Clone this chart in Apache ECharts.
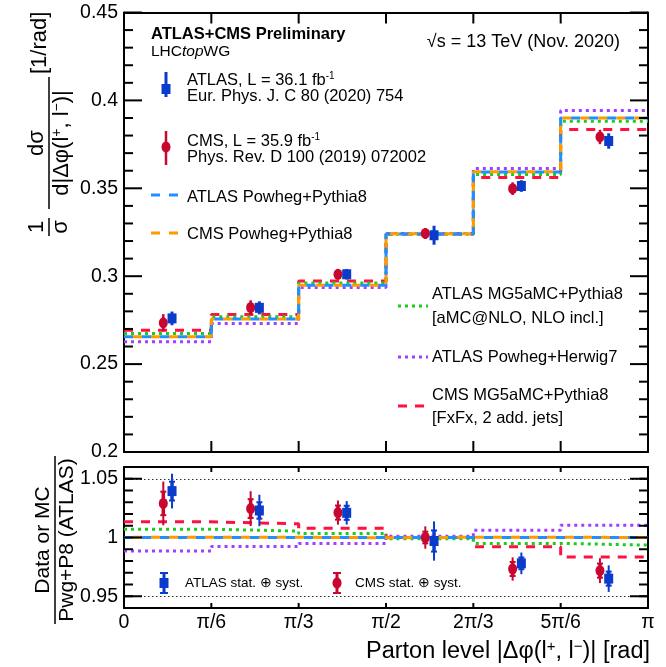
<!DOCTYPE html>
<html>
<head>
<meta charset="utf-8">
<script src="https://cdn.jsdelivr.net/npm/echarts@6/dist/echarts.min.js"></script>
<style>
  html, body { margin: 0; padding: 0; background: #ffffff; }
  #chart { width: 666px; height: 667px; }
</style>
</head>
<body>
<div id="chart"></div>
<script>
// |Δφ(l+, l-)| bin edges, in units of π/6
const binEdges = [0, 1, 2, 3, 4, 5, 6];
const tickLabels = ['0', 'π/6', 'π/3', 'π/2', '2π/3', '5π/6', 'π'];

// Normalised differential cross-section, 1/σ dσ/d|Δφ| [1/rad]
const atlasData = [0.2760, 0.2820, 0.3011, 0.3233, 0.3513, 0.3769];
const atlasErr  = [0.0039, 0.0037, 0.0030, 0.0054, 0.0033, 0.0044];
const cmsData   = [0.2735, 0.2822, 0.3011, 0.3243, 0.3498, 0.3792];
const cmsErr    = [0.0049, 0.0041, 0.0030, 0.0031, 0.0036, 0.0041];

const atlasPwgPy8 = [0.2655, 0.2756, 0.2949, 0.3240, 0.3593, 0.3900];
const cmsPwgPy8   = [0.2656, 0.2757, 0.2948, 0.3241, 0.3594, 0.3900];
const atlasMg5Py8 = [0.2674, 0.2769, 0.2962, 0.3238, 0.3578, 0.3881];
const atlasPwgHw7 = [0.2627, 0.2731, 0.2936, 0.3243, 0.3612, 0.3942];
const cmsMg5Py8   = [0.2693, 0.2782, 0.2972, 0.3240, 0.3562, 0.3835];

// Ratio to ATLAS Powheg+Pythia8
const ratioAtlasData = [1.0395, 1.0230, 1.0210, 0.9970, 0.9780, 0.9650];
const ratioAtlasErr  = [0.0148, 0.0134, 0.0100, 0.0167, 0.0092, 0.0113];
const ratioAtlasStat = [0.0080, 0.0070, 0.0060, 0.0090, 0.0050, 0.0060];
const ratioCmsData   = [1.0290, 1.0246, 1.0212, 1.0000, 0.9732, 0.9718];
const ratioCmsErr    = [0.0186, 0.0148, 0.0103, 0.0095, 0.0099, 0.0106];
const ratioCmsStat   = [0.0100, 0.0080, 0.0060, 0.0050, 0.0060, 0.0060];

const ratioAtlasPwgPy8 = [1.0000, 1.0000, 1.0000, 1.0000, 1.0000, 1.0000];
const ratioCmsPwgPy8   = [1.0003, 1.0002, 0.9998, 1.0002, 1.0002, 1.0000];
const ratioAtlasMg5Py8 = [1.0071, 1.0054, 1.0034, 0.9990, 0.9950, 0.9935];
const ratioAtlasPwgHw7 = [0.9886, 0.9924, 0.9950, 1.0010, 1.0062, 1.0105];
const ratioCmsMg5Py8   = [1.0133, 1.0116, 1.0079, 1.0000, 0.9921, 0.9833];

const ratioRefLines = [0.95, 1.05];

// Tick positions of the framed axes
const mainYMajor = [0.2, 0.25, 0.3, 0.35, 0.4, 0.45];
const mainYMinor = [0.21, 0.22, 0.23, 0.24, 0.26, 0.27, 0.28, 0.29, 0.31, 0.32, 0.33, 0.34,
                    0.36, 0.37, 0.38, 0.39, 0.41, 0.42, 0.43, 0.44];
const ratioYMajor = [0.95, 1, 1.05];
const ratioYMinor = [0.95, 0.96, 0.97, 0.98, 0.99, 1.01, 1.02, 1.03, 1.04, 1.05, 1.06];

const FONT = '"Liberation Sans", Arial, Helvetica, sans-serif';
const C = {
  atlas: '#0a3ccc', cms: '#c8062f',
  atlasPwgPy8: '#2090ff', cmsPwgPy8: '#ff9a00',
  atlasMg5: '#1ccc1c', hw7: '#a040ff', cmsMg5: '#ff1040'
};

const centers = binEdges.slice(0, -1).map((e, i) => (e + binEdges[i + 1]) / 2);
const cmsX = centers.map(c => c - 0.05);
const atlasX = centers.map(c => c + 0.05);
const xMin = binEdges[0], xMax = binEdges[binEdges.length - 1];
const mainRange = [0.2, 0.45];
const ratioRange = [0.94, 1.06];

function stepPoints(vals) {
  const pts = [];
  vals.forEach((v, i) => { pts.push([binEdges[i], v]); pts.push([binEdges[i + 1], v]); });
  return pts;
}

function stepSeries(vals, color, dash, offset, gi) {
  return {
    type: 'line', xAxisIndex: gi === 0 ? 0 : 2, yAxisIndex: gi === 0 ? 0 : 2,
    data: stepPoints(vals), showSymbol: false, silent: true, z: 3,
    lineStyle: { color: color, width: 3, type: dash, dashOffset: offset, cap: 'butt' }
  };
}

function errorSeries(xs, ys, errs, stats, color, gi, width) {
  return {
    type: 'custom', xAxisIndex: gi === 0 ? 0 : 2, yAxisIndex: gi === 0 ? 0 : 2,
    silent: true, z: 5,
    data: ys.map((y, i) => [xs[i], y, errs[i], stats ? stats[i] : 0]),
    renderItem: function (params, api) {
      const x = api.value(0), y = api.value(1), e = api.value(2), s = api.value(3);
      const t = api.coord([x, y + e]), b = api.coord([x, y - e]);
      const kids = [{ type: 'line', shape: { x1: t[0], y1: t[1], x2: b[0], y2: b[1] },
        style: { stroke: color, lineWidth: width } }];
      if (s) {
        const st = api.coord([x, y + s]), sb = api.coord([x, y - s]);
        kids.push({ type: 'line', shape: { x1: st[0] - 3, y1: st[1], x2: st[0] + 3, y2: st[1] }, style: { stroke: color, lineWidth: 2 } });
        kids.push({ type: 'line', shape: { x1: sb[0] - 3, y1: sb[1], x2: sb[0] + 3, y2: sb[1] }, style: { stroke: color, lineWidth: 2 } });
        kids.push({ type: 'line', shape: { x1: st[0], y1: st[1], x2: sb[0], y2: sb[1] }, style: { stroke: color, lineWidth: width + 1.5 } });
      }
      return { type: 'group', children: kids };
    }
  };
}

function markerSeries(xs, ys, color, symbol, size, gi) {
  return {
    type: 'scatter', xAxisIndex: gi === 0 ? 0 : 2, yAxisIndex: gi === 0 ? 0 : 2,
    data: ys.map((y, i) => [xs[i], y]), symbol: symbol, symbolSize: size,
    itemStyle: { color: color, opacity: 1 }, silent: true, z: 6
  };
}

function axisLine() { return { show: true, onZero: false, lineStyle: { color: '#000', width: 2 } }; }

function xAxisCfg(gi, pos, labels) {
  return {
    type: 'value', gridIndex: gi, position: pos, min: xMin, max: xMax, interval: 1,
    axisLine: axisLine(),
    axisTick: { show: false },
    axisLabel: labels ? {
      show: true, margin: 5, color: '#000', fontFamily: FONT, fontSize: 19.5,
      formatter: v => tickLabels[Math.round(v)]
    } : { show: false },
    splitLine: { show: false }
  };
}

function mainYAxis(pos, labels) {
  return {
    type: 'value', gridIndex: 0, position: pos, min: mainRange[0], max: mainRange[1], interval: 0.05,
    axisLine: axisLine(),
    axisTick: { show: false },
    axisLabel: labels ? { show: true, margin: 6, color: '#000', fontFamily: FONT, fontSize: 19.5 } : { show: false },
    splitLine: { show: false }
  };
}

function ratioYAxis(pos, labels) {
  return {
    type: 'value', gridIndex: 1, position: pos, min: ratioRange[0], max: ratioRange[1], interval: 0.01,
    axisLine: axisLine(),
    axisTick: { show: false },
    axisLabel: labels ? {
      show: true, margin: 6, color: '#000', fontFamily: FONT, fontSize: 19.5,
      showMinLabel: false, showMaxLabel: false,
      formatter: v => {
        const m = ratioYMajor.find(t => Math.abs(t - v) < 1e-6);
        return m === undefined ? '' : String(m);
      }
    } : { show: false },
    splitLine: { show: false }
  };
}

const option = {
  animation: false,
  grid: [
    { left: 124, top: 12.5, width: 524, height: 439.5 },
    { left: 124, top: 467, width: 524, height: 141 }
  ],
  xAxis: [
    xAxisCfg(0, 'bottom', false),
    xAxisCfg(0, 'top', false),
    xAxisCfg(1, 'bottom', true),
    xAxisCfg(1, 'top', false)
  ],
  yAxis: [
    mainYAxis('left', true),
    mainYAxis('right', false),
    ratioYAxis('left', true),
    ratioYAxis('right', false)
  ],
  series: [
    // main panel: predictions
    stepSeries(atlasPwgHw7, C.hw7, [3, 4], 0, 0),
    stepSeries(cmsMg5Py8, C.cmsMg5, [9, 8], 0, 0),
    stepSeries(atlasMg5Py8, C.atlasMg5, [3, 4], 0, 0),
    stepSeries(cmsPwgPy8, C.cmsPwgPy8, [9, 9], 9, 0),
    stepSeries(atlasPwgPy8, C.atlasPwgPy8, [9, 9], 0, 0),
    // main panel: measurements
    errorSeries(cmsX, cmsData, cmsErr, null, C.cms, 0, 2.5),
    errorSeries(atlasX, atlasData, atlasErr, null, C.atlas, 0, 3),
    markerSeries(cmsX, cmsData, C.cms, 'circle', [9, 11], 0),
    markerSeries(atlasX, atlasData, C.atlas, 'rect', [9, 10], 0),

    // ratio panel
    {
      type: 'line', xAxisIndex: 2, yAxisIndex: 2, data: [], silent: true,
      markLine: {
        silent: true, symbol: 'none', label: { show: false },
        lineStyle: { type: [1.5, 2.5], color: '#333', width: 1.2 },
        data: ratioRefLines.map(v => ({ yAxis: v }))
      }
    },
    stepSeries(ratioAtlasPwgHw7, C.hw7, [3, 4], 0, 1),
    stepSeries(ratioCmsMg5Py8, C.cmsMg5, [9, 8], 0, 1),
    stepSeries(ratioAtlasMg5Py8, C.atlasMg5, [3, 4], 0, 1),
    stepSeries(ratioCmsPwgPy8, C.cmsPwgPy8, [9, 9], 9, 1),
    stepSeries(ratioAtlasPwgPy8, C.atlasPwgPy8, [9, 9], 0, 1),
    errorSeries(cmsX, ratioCmsData, ratioCmsErr, ratioCmsStat, C.cms, 1, 2),
    errorSeries(atlasX, ratioAtlasData, ratioAtlasErr, ratioAtlasStat, C.atlas, 1, 2),
    markerSeries(cmsX, ratioCmsData, C.cms, 'circle', [9, 11], 1),
    markerSeries(atlasX, ratioAtlasData, C.atlas, 'rect', [9, 10], 1)
  ]
};

const chart = echarts.init(document.getElementById('chart'));
chart.setOption(option);

// ---- text, legends, axis titles and frame ticks ----
const g = [];
function txt(x, y, text, size, extra) {
  const style = Object.assign({ text: text, fill: '#000', font: size + 'px ' + FONT, align: 'left', verticalAlign: 'middle' }, extra || {});
  return { type: 'text', x: x, y: y, silent: true, style: style };
}
function richTxt(x, y, text, size, rich, extra) {
  const style = Object.assign({ text: text, fill: '#000', fontFamily: FONT, fontSize: size, align: 'left', verticalAlign: 'middle', rich: rich }, extra || {});
  return { type: 'text', x: x, y: y, silent: true, style: style };
}
function seg(x1, y1, x2, y2, color, width) {
  return { type: 'line', silent: true, z: 50, shape: { x1: x1, y1: y1, x2: x2, y2: y2 }, style: { stroke: color, lineWidth: width } };
}
function sample(x1, x2, y, color, dash, offset) {
  return { type: 'line', silent: true, shape: { x1: x1, y1: y, x2: x2, y2: y },
    style: { stroke: color, lineWidth: 3, lineDash: dash, lineDashOffset: offset || 0 } };
}
const supRich = (size) => ({
  n: { fontFamily: FONT, fontSize: size, fill: '#000' },
  s: { fontFamily: FONT, fontSize: Math.round(size * 0.62), fill: '#000', verticalAlign: 'top', padding: [0, 0, Math.round(size * 0.45), 0] }
});

// inward ticks on all four sides of both frames, placed through the axis scales
function frameTicks(xi, yi, yRange, yMajor, yMinor, xLen) {
  const finder = { xAxisIndex: xi, yAxisIndex: yi };
  const px = p => chart.convertToPixel(finder, p);
  yMajor.forEach(v => {
    const l = px([xMin, v]), r = px([xMax, v]);
    g.push(seg(l[0], l[1], l[0] + 18, l[1], '#000', 2));
    g.push(seg(r[0] - 18, r[1], r[0], r[1], '#000', 2));
  });
  yMinor.forEach(v => {
    const l = px([xMin, v]), r = px([xMax, v]);
    g.push(seg(l[0], l[1], l[0] + 9, l[1], '#000', 2));
    g.push(seg(r[0] - 9, r[1], r[0], r[1], '#000', 2));
  });
  binEdges.forEach(u => {
    const b = px([u, yRange[0]]), t = px([u, yRange[1]]);
    g.push(seg(b[0], b[1], b[0], b[1] - xLen, '#000', 2));
    g.push(seg(t[0], t[1], t[0], t[1] + xLen, '#000', 2));
  });
}
frameTicks(0, 0, mainRange, mainYMajor, mainYMinor, 11);
frameTicks(2, 2, ratioRange, ratioYMajor, ratioYMinor, 5);

g.push(txt(151, 34, 'ATLAS+CMS Preliminary', 16.5, { font: 'bold 16.5px ' + FONT }));
g.push(richTxt(151, 52, '{n|LHC}{i|top}{n|WG}', 15.5, {
  n: { fontFamily: FONT, fontSize: 15.5, fill: '#000' },
  i: { fontFamily: FONT, fontSize: 15.5, fontStyle: 'italic', fill: '#000' }
}));

// ATLAS data entry
g.push({ type: 'line', silent: true, shape: { x1: 166, y1: 72, x2: 166, y2: 97 }, style: { stroke: C.atlas, lineWidth: 3 } });
g.push({ type: 'rect', silent: true, shape: { x: 161.5, y: 84, width: 9, height: 10 }, style: { fill: C.atlas } });
g.push(richTxt(187, 80, '{n|ATLAS, L = 36.1 fb}{s|-1}', 16.5, supRich(16.5)));
g.push(txt(187, 96, 'Eur. Phys. J. C 80 (2020) 754', 16.5));

// CMS data entry
g.push({ type: 'line', silent: true, shape: { x1: 166, y1: 131, x2: 166, y2: 165 }, style: { stroke: C.cms, lineWidth: 2.5 } });
g.push({ type: 'ellipse', silent: true, shape: { cx: 166, cy: 147, rx: 4.5, ry: 5.5 }, style: { fill: C.cms } });
g.push(richTxt(187, 141, '{n|CMS, L = 35.9 fb}{s|-1}', 16.5, supRich(16.5)));
g.push(txt(187, 157, 'Phys. Rev. D 100 (2019) 072002', 16.5));

// prediction entries
g.push(sample(151, 181, 195, C.atlasPwgPy8, [9, 9]));
g.push(txt(187, 197, 'ATLAS Powheg+Pythia8', 16.5));
g.push(sample(151, 181, 233, C.cmsPwgPy8, [9, 9]));
g.push(txt(187, 234, 'CMS Powheg+Pythia8', 16.5));

g.push(txt(620, 42, '√s = 13 TeV (Nov. 2020)', 18, { align: 'right' }));

g.push(sample(398, 428, 306, C.atlasMg5, [3, 4]));
g.push(txt(432, 294, 'ATLAS MG5aMC+Pythia8', 16.5));
g.push(txt(432, 318, '[aMC@NLO, NLO incl.]', 16.5));
g.push(sample(398, 428, 357, C.hw7, [3, 4]));
g.push(txt(432, 357, 'ATLAS Powheg+Herwig7', 16.5));
g.push(sample(398, 428, 406, C.cmsMg5, [9, 8]));
g.push(txt(432, 395, 'CMS MG5aMC+Pythia8', 16.5));
g.push(txt(432, 418, '[FxFx, 2 add. jets]', 16.5));

// ratio legend
g.push({ type: 'line', silent: true, shape: { x1: 164, y1: 573, x2: 164, y2: 593 }, style: { stroke: C.atlas, lineWidth: 3 } });
g.push({ type: 'line', silent: true, shape: { x1: 160, y1: 573, x2: 168, y2: 573 }, style: { stroke: C.atlas, lineWidth: 2 } });
g.push({ type: 'line', silent: true, shape: { x1: 160, y1: 593, x2: 168, y2: 593 }, style: { stroke: C.atlas, lineWidth: 2 } });
g.push({ type: 'rect', silent: true, shape: { x: 159.5, y: 578, width: 9, height: 10 }, style: { fill: C.atlas } });
g.push(txt(185, 583, 'ATLAS stat. ⊕ syst.', 13.5));
g.push({ type: 'line', silent: true, shape: { x1: 337, y1: 573, x2: 337, y2: 593 }, style: { stroke: C.cms, lineWidth: 3 } });
g.push({ type: 'line', silent: true, shape: { x1: 333, y1: 573, x2: 341, y2: 573 }, style: { stroke: C.cms, lineWidth: 2 } });
g.push({ type: 'line', silent: true, shape: { x1: 333, y1: 593, x2: 341, y2: 593 }, style: { stroke: C.cms, lineWidth: 2 } });
g.push({ type: 'ellipse', silent: true, shape: { cx: 337, cy: 583, rx: 4.5, ry: 5.5 }, style: { fill: C.cms } });
g.push(txt(355, 583, 'CMS stat. ⊕ syst.', 13.5));

// x-axis title
g.push(richTxt(650, 652, '{n|Parton level}{n| |Δφ(l}{s|+}{n|, l}{s|−}{n|)| [rad]}', 23.5, supRich(23.5), { align: 'right' }));

// rotated y-axis titles (reading bottom to top)
function vtext(lx, ly, text, size, align) {
  return { type: 'text', x: lx, y: ly, silent: true,
    style: { text: text, font: size + 'px ' + FONT, fill: '#000', align: align || 'center', verticalAlign: 'middle' } };
}
function vrich(lx, ly, text, size, align) {
  return { type: 'text', x: lx, y: ly, silent: true,
    style: { text: text, fontFamily: FONT, fontSize: size, fill: '#000', align: align || 'center', verticalAlign: 'middle', rich: supRich(size) } };
}
function vbar(l1, l2) {
  return { type: 'line', silent: true, shape: { x1: l1, y1: 0, x2: l2, y2: 0 }, style: { stroke: '#000', lineWidth: 1.5 } };
}
g.push({
  type: 'group', x: 49, y: 247, rotation: Math.PI / 2, silent: true,
  children: [
    vtext(20, -12, '1', 22),
    vbar(11, 29),
    vtext(20, 12, 'σ', 22),
    vtext(104, -12, 'dσ', 22),
    vbar(38, 170),
    vrich(104, 13, '{n|d|Δφ(l}{s|+}{n|, l}{s|−}{n|)|}', 22),
    vtext(173, -9, '[1/rad]', 22, 'left')
  ]
});
g.push({
  type: 'group', x: 55, y: 540, rotation: Math.PI / 2, silent: true,
  children: [
    vtext(0, -12, 'Data or MC', 21),
    vbar(-84, 84),
    vtext(0, 12, 'Pwg+P8 (ATLAS)', 21)
  ]
});

chart.setOption({ graphic: g });
</script>
</body>
</html>
